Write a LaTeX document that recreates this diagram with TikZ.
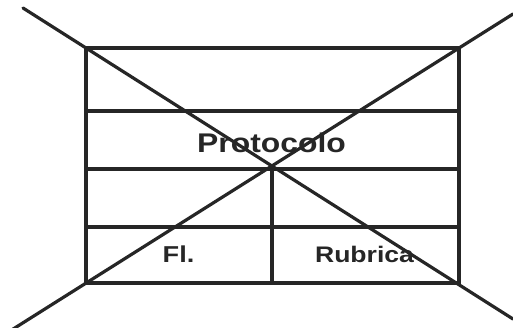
\documentclass[tikz,border=0pt]{standalone}
\usepackage{fontspec}
\newfontfamily\labelfont[FakeStretch=1.18]{Liberation Sans}
\begin{document}
\begin{tikzpicture}[x=1pt,y=-1pt,
  rule/.style={line width=3.2pt, draw=black!85},
  cross/.style={line width=3.2pt, draw=black!85, line cap=round},
  caption/.style={anchor=base, inner sep=0pt, text=black!85, font=\labelfont\bfseries}]
  \useasboundingbox (0,0) rectangle (513,327);
  % frame corners and grid rows
  \coordinate (tl) at (86,48);
  \coordinate (tr) at (459,48);
  \coordinate (bl) at (86,283);
  \coordinate (br) at (459,283);
  \coordinate (r1l) at (86,111);  \coordinate (r1r) at (459,111);
  \coordinate (r2l) at (86,169);  \coordinate (r2r) at (459,169);
  \coordinate (r3l) at (86,227);  \coordinate (r3r) at (459,227);
  \coordinate (vt) at (272,169);  \coordinate (vb) at (272,283);
  % ends of the crossing lines
  \coordinate (xa) at (23,8);
  \coordinate (xb) at (513,319);
  \coordinate (xc) at (513,14);
  \coordinate (xd) at (10,331);
  % grid
  \draw[rule] (tl) rectangle (br);
  \draw[rule] (r1l) -- (r1r);
  \draw[rule] (r2l) -- (r2r);
  \draw[rule] (r3l) -- (r3r);
  \draw[rule] (vt) -- (vb);
  % labels
  \node[caption, font=\labelfont\bfseries\fontsize{27}{27}\selectfont] (proto) at (271.5,152.5) {Protocolo};
  \node[caption, font=\labelfont\bfseries\fontsize{23}{23}\selectfont] (fl) at (178.5,262) {Fl.};
  \node[caption, font=\labelfont\bfseries\fontsize{22.5}{22.5}\selectfont] (rub) at (364.5,262) {Rubrica};
  % crossing lines
  \draw[cross] (xa) -- (xb);
  \draw[cross] (xc) -- (xd);
\end{tikzpicture}
\end{document}
